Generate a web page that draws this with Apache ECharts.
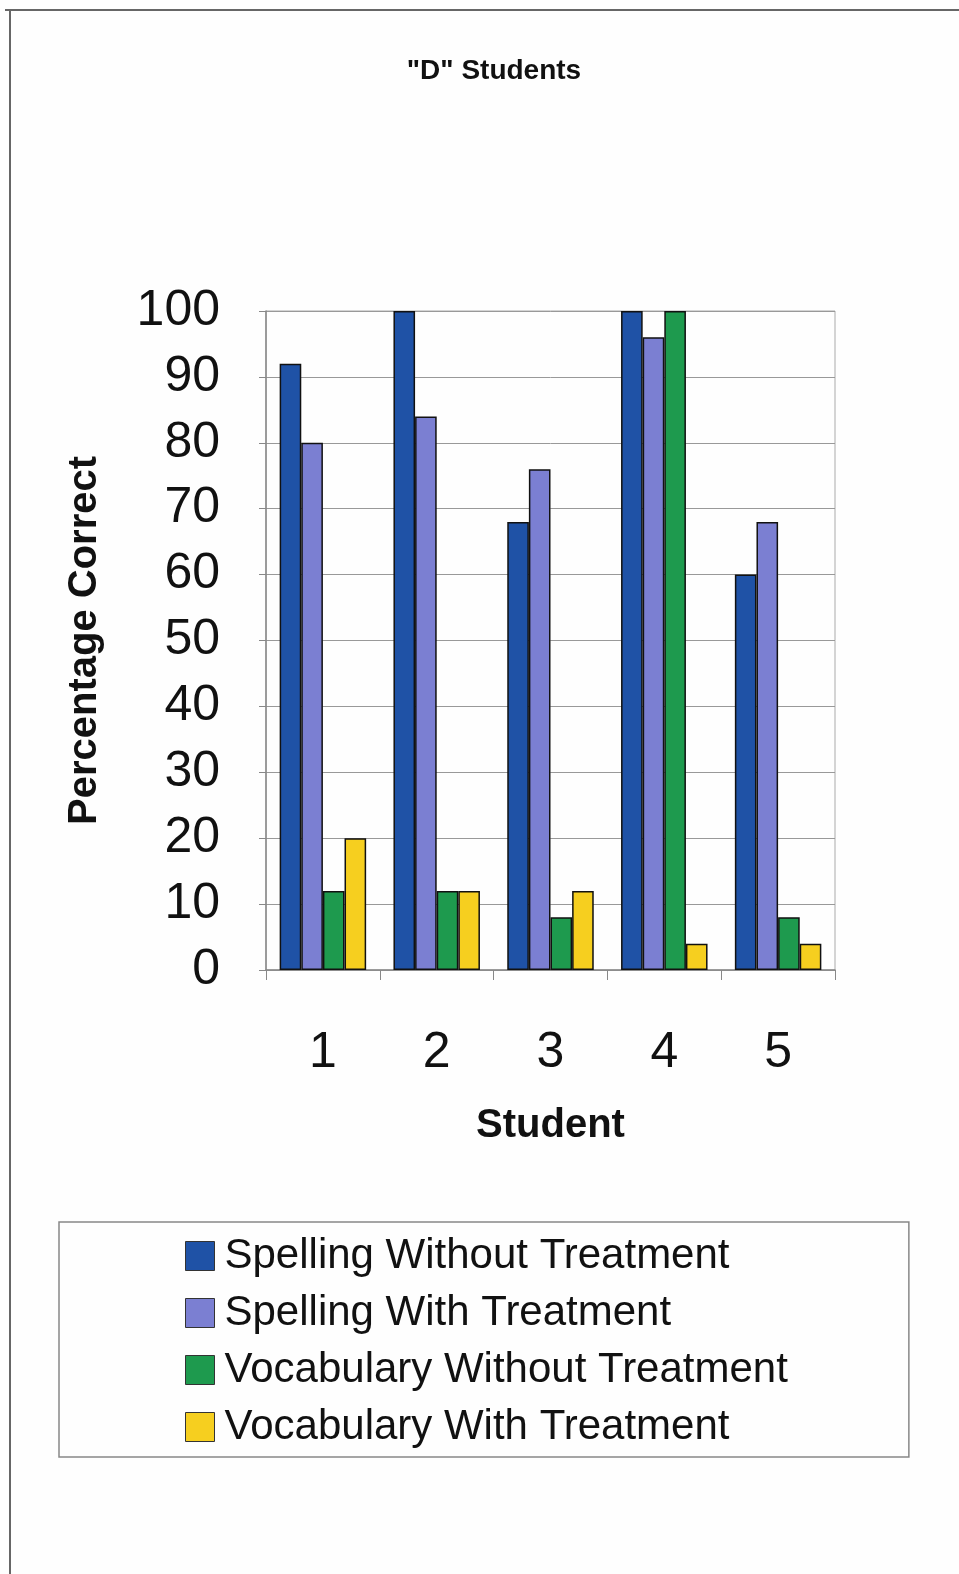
<!DOCTYPE html>
<html>
<head>
<meta charset="utf-8">
<title>"D" Students</title>
<script src="https://cdn.jsdelivr.net/npm/echarts@6/dist/echarts.min.js"></script>
<style>
  html, body { margin: 0; padding: 0; background: #fefefe; }
  #chart { width: 959px; height: 1574px; }
</style>
</head>
<body>
<div id="chart"></div>
<script>
// Students on the category axis
const students = ['1', '2', '3', '4', '5'];

// Percentage correct per student
const spellingWithout = [92, 100, 68, 100, 60];
const spellingWith = [80, 84, 76, 96, 68];
const vocabularyWithout = [12, 12, 8, 100, 8];
const vocabularyWith = [20, 12, 12, 4, 4];

const seriesNames = [
  'Spelling Without Treatment',
  'Spelling With Treatment',
  'Vocabulary Without Treatment',
  'Vocabulary With Treatment'
];
const seriesColors = ['#1f52a6', '#7b7fd2', '#1e9a4e', '#f6cf1f'];
const seriesValues = [spellingWithout, spellingWith, vocabularyWithout, vocabularyWith];

const font = '"Liberation Sans", Arial, Helvetica, sans-serif';

const chart = echarts.init(document.getElementById('chart'), null, { renderer: 'canvas' });

chart.setOption({
  backgroundColor: '#fefefe',
  animation: false,
  title: {
    text: '"D" Students',
    left: 489,
    textAlign: 'center',
    top: 52,
    textStyle: { fontFamily: font, fontSize: 28, fontWeight: 'bold', color: '#111' }
  },
  // page frame: top and left rules
  graphic: [
    { type: 'line', shape: { x1: 5, y1: 10, x2: 959, y2: 10 }, style: { stroke: '#666', lineWidth: 2 } },
    { type: 'line', shape: { x1: 10, y1: 10, x2: 10, y2: 1574 }, style: { stroke: '#666', lineWidth: 2 } }
  ],
  legend: {
    orient: 'vertical',
    left: 59,
    top: 1222,
    padding: [12, 121, 8, 126],
    itemWidth: 29,
    itemHeight: 29,
    itemGap: 13,
    borderColor: '#888',
    borderWidth: 1.5,
    borderRadius: 0,
    icon: 'rect',
    itemStyle: { borderColor: '#333', borderWidth: 1 },
    textStyle: { fontFamily: font, fontSize: 42, color: '#111', lineHeight: 44, padding: [0, 0, 0, 5] },
    data: seriesNames
  },
  grid: {
    left: 266,
    right: 124,
    top: 311,
    bottom: 604,
    show: true,
    borderColor: '#aaa',
    borderWidth: 1
  },
  xAxis: {
    type: 'category',
    data: students,
    name: 'Student',
    nameLocation: 'middle',
    nameGap: 136,
    nameTextStyle: { fontFamily: font, fontSize: 40, fontWeight: 'bold', color: '#111' },
    axisLine: { lineStyle: { color: '#888', width: 1.5 } },
    axisTick: { show: true, length: 10, lineStyle: { color: '#888' } },
    axisLabel: { margin: 58, fontFamily: font, fontSize: 50, color: '#111' }
  },
  yAxis: {
    type: 'value',
    min: 0,
    max: 100,
    interval: 10,
    name: 'Percentage Correct',
    nameLocation: 'middle',
    nameGap: 161,
    nameTextStyle: { fontFamily: font, fontSize: 40, fontWeight: 'bold', color: '#111' },
    axisLine: { show: true, lineStyle: { color: '#888', width: 1.5 } },
    axisTick: { show: true, length: 7, lineStyle: { color: '#888' } },
    axisLabel: { margin: 46, fontFamily: font, fontSize: 50, color: '#111' },
    splitLine: { lineStyle: { color: '#999', width: 1 } }
  },
  series: seriesNames.map((name, i) => ({
    name: name,
    type: 'bar',
    data: seriesValues[i],
    barGap: '0%',
    barCategoryGap: '24%',
    itemStyle: { color: seriesColors[i], borderColor: '#111', borderWidth: 1.5 }
  }))
});
</script>
</body>
</html>
